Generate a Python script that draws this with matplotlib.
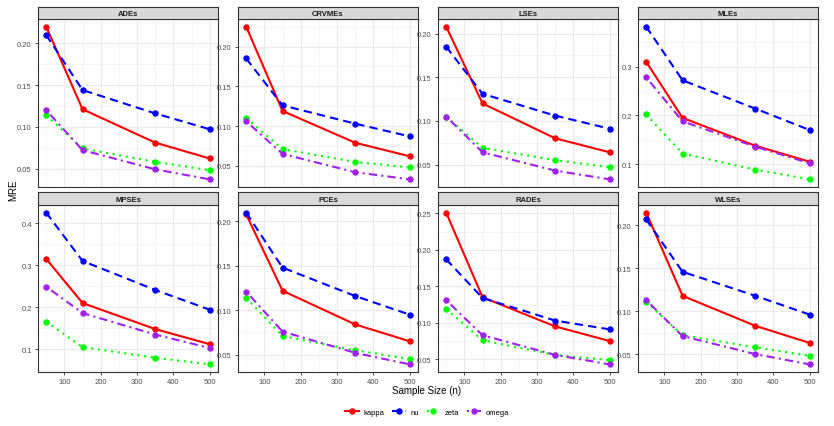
import matplotlib
matplotlib.use("Agg")
import matplotlib.pyplot as plt
from matplotlib.ticker import MultipleLocator, AutoMinorLocator, FormatStrFormatter
from matplotlib.lines import Line2D

plt.rcParams['font.family'] = ['Liberation Sans', 'DejaVu Sans']

sample_sizes = [50, 150, 350, 500]
series = ["kappa", "nu", "zeta", "omega"]
panels = ["ADEs", "CRVMEs", "LSEs", "MLEs", "MPSEs", "PCEs", "RADEs", "WLSEs"]

ADEs_kappa = [0.220, 0.121, 0.081, 0.062]
ADEs_nu = [0.210, 0.144, 0.116, 0.097]
ADEs_zeta = [0.114, 0.074, 0.058, 0.048]
ADEs_omega = [0.120, 0.072, 0.049, 0.037]

CRVMEs_kappa = [0.225, 0.119, 0.079, 0.062]
CRVMEs_nu = [0.185, 0.126, 0.103, 0.087]
CRVMEs_zeta = [0.110, 0.071, 0.055, 0.048]
CRVMEs_omega = [0.106, 0.065, 0.042, 0.033]

LSEs_kappa = [0.208, 0.120, 0.080, 0.064]
LSEs_nu = [0.185, 0.131, 0.106, 0.091]
LSEs_zeta = [0.105, 0.069, 0.055, 0.047]
LSEs_omega = [0.105, 0.064, 0.043, 0.033]

MLEs_kappa = [0.310, 0.195, 0.138, 0.105]
MLEs_nu = [0.382, 0.272, 0.214, 0.170]
MLEs_zeta = [0.202, 0.122, 0.089, 0.069]
MLEs_omega = [0.278, 0.188, 0.136, 0.102]

MPSEs_kappa = [0.315, 0.210, 0.148, 0.112]
MPSEs_nu = [0.425, 0.310, 0.241, 0.194]
MPSEs_zeta = [0.166, 0.105, 0.080, 0.064]
MPSEs_omega = [0.249, 0.186, 0.135, 0.103]

PCEs_kappa = [0.208, 0.122, 0.084, 0.065]
PCEs_nu = [0.210, 0.148, 0.116, 0.095]
PCEs_zeta = [0.114, 0.071, 0.055, 0.045]
PCEs_omega = [0.121, 0.076, 0.052, 0.039]

RADEs_kappa = [0.251, 0.135, 0.095, 0.075]
RADEs_nu = [0.187, 0.134, 0.103, 0.091]
RADEs_zeta = [0.119, 0.076, 0.056, 0.049]
RADEs_omega = [0.131, 0.083, 0.056, 0.043]

WLSEs_kappa = [0.215, 0.118, 0.083, 0.063]
WLSEs_nu = [0.207, 0.146, 0.118, 0.096]
WLSEs_zeta = [0.111, 0.072, 0.058, 0.048]
WLSEs_omega = [0.113, 0.071, 0.050, 0.038]

data = {
    "ADEs": [ADEs_kappa, ADEs_nu, ADEs_zeta, ADEs_omega],
    "CRVMEs": [CRVMEs_kappa, CRVMEs_nu, CRVMEs_zeta, CRVMEs_omega],
    "LSEs": [LSEs_kappa, LSEs_nu, LSEs_zeta, LSEs_omega],
    "MLEs": [MLEs_kappa, MLEs_nu, MLEs_zeta, MLEs_omega],
    "MPSEs": [MPSEs_kappa, MPSEs_nu, MPSEs_zeta, MPSEs_omega],
    "PCEs": [PCEs_kappa, PCEs_nu, PCEs_zeta, PCEs_omega],
    "RADEs": [RADEs_kappa, RADEs_nu, RADEs_zeta, RADEs_omega],
    "WLSEs": [WLSEs_kappa, WLSEs_nu, WLSEs_zeta, WLSEs_omega],
}

colors = ["#FF0000", "#0000FF", "#00FF00", "#A020F0"]
dashes = ["-", (0, (4, 2.5)), (0, (1, 2.2)), (0, (1, 2, 4, 2))]
ystep = [0.05, 0.05, 0.05, 0.1, 0.1, 0.05, 0.05, 0.05]
yfmt = ["%.2f", "%.2f", "%.2f", "%.1f", "%.1f", "%.2f", "%.2f", "%.2f"]

W, H = 834, 427
fig = plt.figure(figsize=(W / 100, H / 100), dpi=100)

col_left = [38, 238, 438, 638]
pw = 180
rows = [(8, 20, 188), (193, 206, 373)]

for i, name in enumerate(panels):
    r, c = divmod(i, 4)
    st, pt, pb = rows[r]
    x0 = col_left[c]
    ax = fig.add_axes([x0 / W, 1 - pb / H, pw / W, (pb - pt) / H])
    sax = fig.add_axes([x0 / W, 1 - pt / H, pw / W, (pt - st) / H])
    sax.set_facecolor("#D9D9D9")
    sax.set_xticks([]); sax.set_yticks([])
    for s in sax.spines.values():
        s.set_color("#333333"); s.set_linewidth(0.8)
    sax.text(0.5, 0.45, name, ha="center", va="center", fontsize=5.5,
             fontweight="bold", color="#1A1A1A", transform=sax.transAxes)

    for k, vals in enumerate(data[name]):
        ax.plot(sample_sizes, vals, color=colors[k], linestyle=dashes[k],
                linewidth=1.5, marker="o", markersize=3.6, zorder=3)

    ax.set_xlim(27.5, 522.5)
    ax.margins(y=0.05)
    ax.xaxis.set_major_locator(MultipleLocator(100))
    ax.xaxis.set_minor_locator(AutoMinorLocator(2))
    ax.yaxis.set_major_locator(MultipleLocator(ystep[i]))
    ax.yaxis.set_minor_locator(AutoMinorLocator(2))
    ax.yaxis.set_major_formatter(FormatStrFormatter(yfmt[i]))
    ax.grid(True, which="major", color="#EBEBEB", linewidth=0.9)
    ax.grid(True, which="minor", color="#F2F2F2", linewidth=0.5)
    ax.set_axisbelow(True)
    for s in ax.spines.values():
        s.set_color("#333333"); s.set_linewidth(0.8)
    ax.tick_params(which="major", length=2.5, width=0.6, color="#333333",
                   labelsize=5.5, labelcolor="#4D4D4D", pad=2)
    ax.tick_params(which="minor", length=0)
    if r == 0:
        ax.tick_params(axis="x", which="both", bottom=False, labelbottom=False)

fig.text(13 / W, 1 - 190 / H, "MRE", rotation=90, ha="center", va="center", fontsize=7)
fig.text(427 / W, 1 - 391 / H, "Sample Size (n)", ha="center", va="center", fontsize=7)

handles = [Line2D([0], [0], color=colors[k], linestyle=dashes[k], linewidth=1.5,
                  marker="o", markersize=3.6) for k in range(4)]
fig.legend(handles, series, loc="center", bbox_to_anchor=(427 / W, 1 - 413 / H),
           ncol=4, frameon=False, fontsize=5.5, handlelength=1.8,
           columnspacing=1.0, handletextpad=0.6)

fig.savefig("out.png", dpi=100)
